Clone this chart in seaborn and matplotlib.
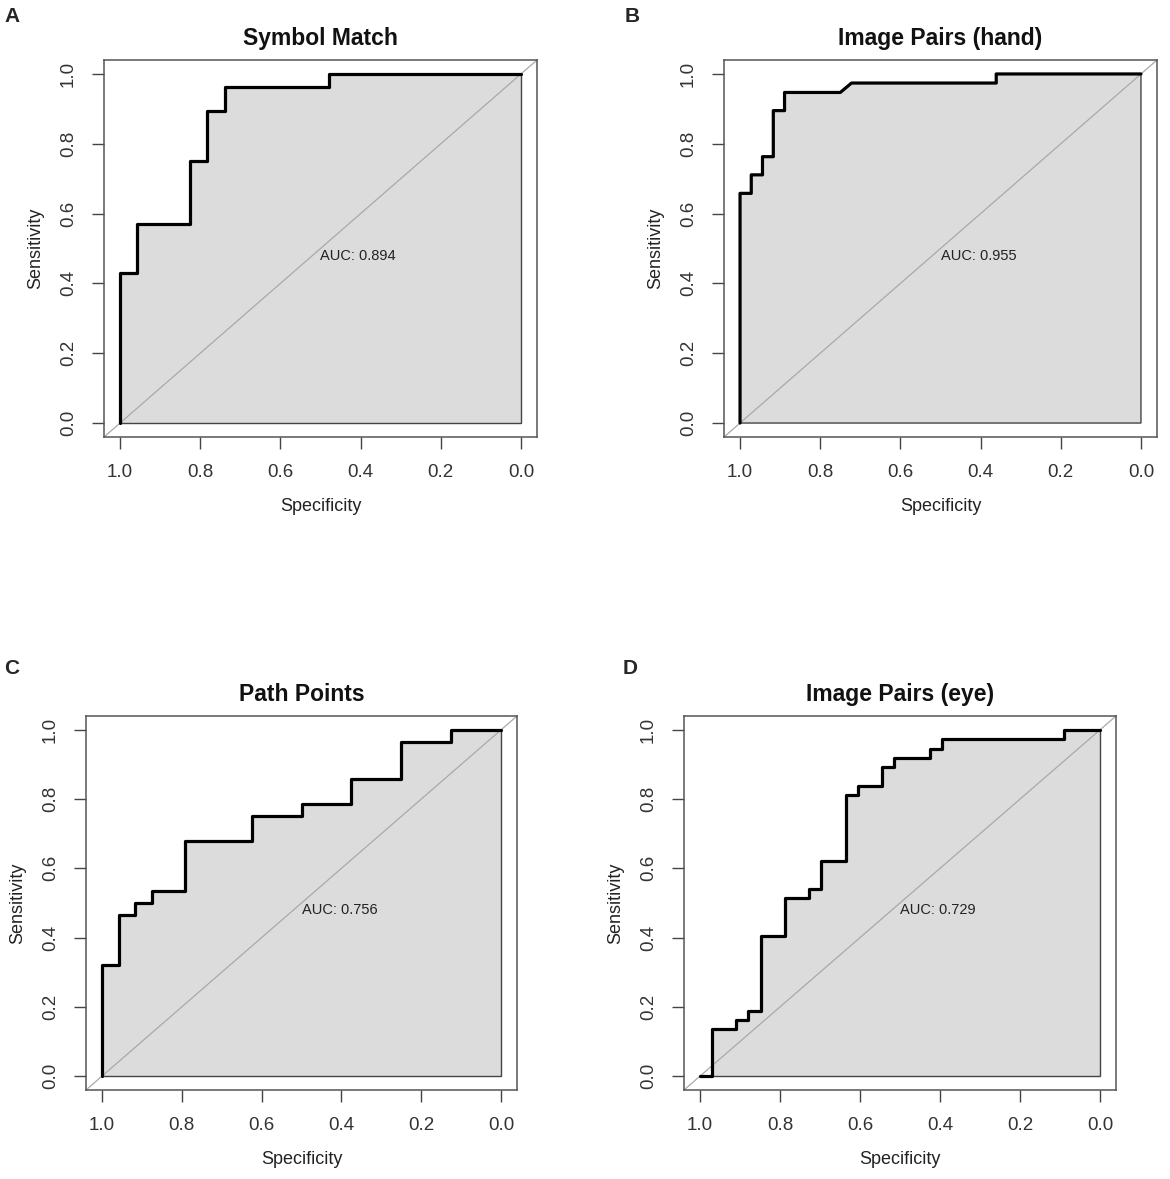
import matplotlib
matplotlib.use("Agg")
import matplotlib.pyplot as plt
import seaborn as sns

# ROC coordinates (specificity, sensitivity)
spec_a = [1.0, 1.0, 0.957, 0.957, 0.826, 0.826, 0.783, 0.783, 0.739, 0.739, 0.478, 0.478, 0.0]
sens_a = [0.0, 0.429, 0.429, 0.571, 0.571, 0.75, 0.75, 0.893, 0.893, 0.964, 0.964, 1.0, 1.0]

spec_b = [1.0, 1.0, 0.972, 0.972, 0.944, 0.944, 0.917, 0.917, 0.889, 0.889, 0.75, 0.722, 0.361, 0.361, 0.0]
sens_b = [0.0, 0.658, 0.658, 0.711, 0.711, 0.763, 0.763, 0.895, 0.895, 0.947, 0.947, 0.974, 0.974, 1.0, 1.0]

spec_c = [1.0, 1.0, 0.958, 0.958, 0.917, 0.917, 0.875, 0.875, 0.792, 0.792, 0.625, 0.625, 0.5, 0.5,
          0.375, 0.375, 0.25, 0.25, 0.125, 0.125, 0.0]
sens_c = [0.0, 0.321, 0.321, 0.464, 0.464, 0.5, 0.5, 0.536, 0.536, 0.679, 0.679, 0.75, 0.75, 0.786,
          0.786, 0.857, 0.857, 0.964, 0.964, 1.0, 1.0]

spec_d = [1.0, 0.970, 0.970, 0.909, 0.909, 0.879, 0.879, 0.848, 0.848, 0.788, 0.788, 0.727, 0.727,
          0.697, 0.697, 0.636, 0.636, 0.606, 0.606, 0.545, 0.545, 0.515, 0.515, 0.424, 0.424,
          0.394, 0.394, 0.091, 0.091, 0.0]
sens_d = [0.0, 0.0, 0.135, 0.135, 0.162, 0.162, 0.189, 0.189, 0.405, 0.405, 0.514, 0.514, 0.541,
          0.541, 0.622, 0.622, 0.811, 0.811, 0.838, 0.838, 0.892, 0.892, 0.919, 0.919, 0.946,
          0.946, 0.973, 0.973, 1.0, 1.0]

titles = ["Symbol Match", "Image Pairs (hand)", "Path Points", "Image Pairs (eye)"]
letters = ["A", "B", "C", "D"]
auc_values = [0.894, 0.955, 0.756, 0.729]
ticks = [0.0, 0.2, 0.4, 0.6, 0.8, 1.0]

sns.set_style("white")
plt.rcParams['font.family'] = ['Liberation Sans', 'DejaVu Sans']

W, H = 1170, 1179
fig = plt.figure(figsize=(W / 100, H / 100), dpi=100)

# axes boxes in pixels: left, top, right, bottom
boxes = [(104, 60, 537, 437), (724, 60, 1157, 437), (86, 716, 517, 1090), (684, 716, 1116, 1090)]
letter_pos = [(12, 17), (632, 17), (12, 668), (630, 669)]
curves = [(spec_a, sens_a), (spec_b, sens_b), (spec_c, sens_c), (spec_d, sens_d)]

for i, (spec, sens) in enumerate(curves):
    l, t, r, b = boxes[i]
    ax = fig.add_axes([l / W, 1 - b / H, (r - l) / W, (b - t) / H])

    # area under the curve
    ax.fill(spec + [0.0], sens + [0.0], facecolor='#DCDCDC', edgecolor='#444444', lw=1.0, zorder=1)
    # chance line (sensitivity = 1 - specificity)
    ax.axline((1, 0), (0, 1), color='#A9A9A9', lw=0.9, zorder=2)
    sns.lineplot(x=spec, y=sens, sort=False, estimator=None, color='black', lw=2.3, ax=ax, zorder=3)

    ax.text(0.5, 0.5, "AUC: %.3f" % auc_values[i], ha='left', va='top', fontsize=10.5, color='#222222')

    ax.set_xlim(1.04, -0.04)
    ax.set_ylim(-0.04, 1.04)
    ax.set_xticks(ticks)
    ax.set_yticks(ticks)
    ax.set_xticklabels(["%.1f" % v for v in ticks])
    ax.set_yticklabels(["%.1f" % v for v in ticks], rotation=90, va='center')
    ax.tick_params(direction='out', length=8.5, width=1.0, color='#444444', labelsize=13.5,
                   labelcolor='#333333', pad=11, bottom=True, left=True)
    for s in ax.spines.values():
        s.set_color('#555555')
        s.set_linewidth(1.1)
    ax.set_xlabel("Specificity", fontsize=13, color='#222222', labelpad=12)
    ax.set_ylabel("Sensitivity", fontsize=13, color='#222222', labelpad=11)
    ax.set_title(titles[i], fontsize=16.5, fontweight='bold', pad=11, color='#111111')

    lx, ly = letter_pos[i]
    fig.text(lx / W, 1 - ly / H, letters[i], ha='center', va='center', fontsize=15, fontweight='bold')

fig.savefig("out.png", dpi=100)
